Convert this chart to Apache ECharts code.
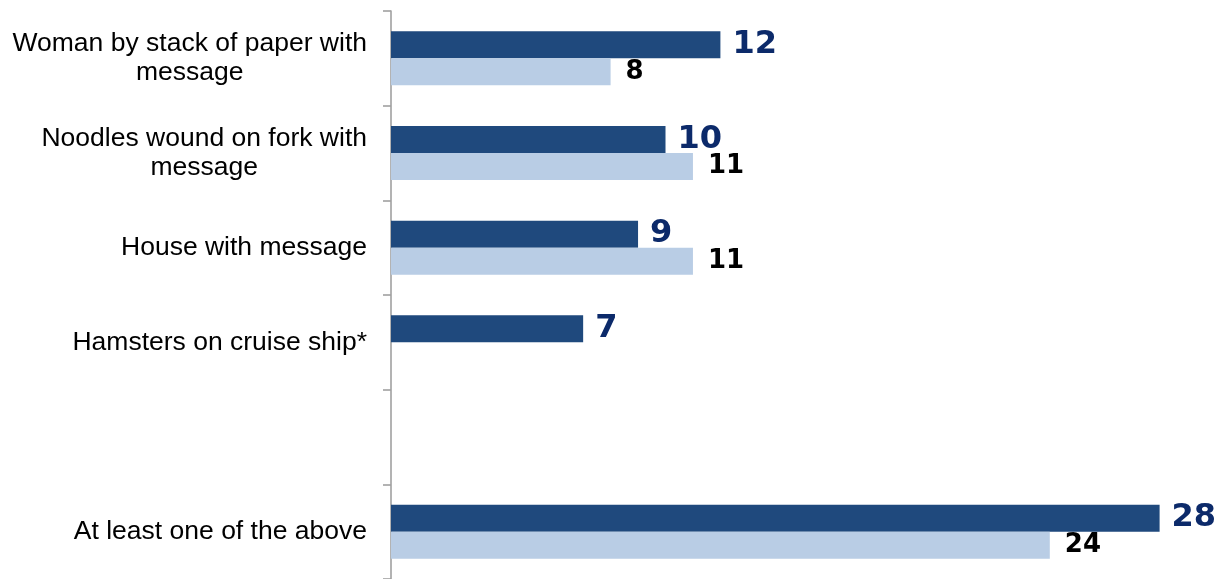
<!DOCTYPE html>
<html>
<head>
<meta charset="utf-8">
<title>Recall of ad images</title>
<script src="https://cdn.jsdelivr.net/npm/echarts@6/dist/echarts.min.js"></script>
<style>
  html, body { margin: 0; padding: 0; background: #ffffff; }
  #chart { width: 1226px; height: 579px; }
</style>
</head>
<body>
<div id="chart"></div>
<script>
// Ad images, top to bottom; the blank slot separates the summary row
var categories = [
  'Woman by stack of paper with\nmessage',
  'Noodles wound on fork with\nmessage',
  'House with message',
  'Hamsters on cruise ship*',
  '',
  'At least one of the above'
];
var darkValues = [12, 10, 9, 7, null, 28];
var lightValues = [8, 11, 11, null, null, 24];
var axisMax = 30;

var chart = echarts.init(document.getElementById('chart'));

// Each line of a category label is centred within its block
function categoryLabel(value) {
  if (!value) return '';
  return value.split('\n').map(function (line) {
    return '{c|' + line + '}';
  }).join('\n');
}

var valueFont = 'DejaVu Sans, Verdana, sans-serif';

chart.setOption({
  animation: false,
  backgroundColor: '#ffffff',
  grid: { left: 391, top: 11, right: 11.5, height: 573 },
  xAxis: {
    type: 'value',
    min: 0,
    max: axisMax,
    show: false
  },
  yAxis: {
    type: 'category',
    inverse: true,
    data: categories,
    axisLine: { show: true, lineStyle: { color: '#a0a0a0', width: 1.6 } },
    axisTick: { show: true, length: 8, lineStyle: { color: '#a0a0a0', width: 1.6 } },
    splitLine: { show: false },
    axisLabel: {
      margin: 24,
      align: 'right',
      formatter: categoryLabel,
      rich: {
        c: {
          align: 'center',
          fontFamily: 'Liberation Sans, Arial, sans-serif',
          fontSize: 26.5,
          lineHeight: 29,
          color: '#000000'
        }
      }
    }
  },
  series: [
    {
      type: 'bar',
      data: darkValues,
      barWidth: 27,
      barGap: '0%',
      itemStyle: { color: '#1f497d' },
      label: {
        show: true,
        position: 'right',
        distance: 12,
        fontFamily: valueFont,
        fontWeight: 'bold',
        fontSize: 32,
        color: '#0c2a6a'
      }
    },
    {
      type: 'bar',
      data: lightValues,
      barWidth: 27,
      barGap: '0%',
      itemStyle: { color: '#b9cde5' },
      label: {
        show: true,
        position: 'right',
        distance: 15,
        fontFamily: valueFont,
        fontWeight: 'bold',
        fontSize: 26,
        color: '#000000'
      }
    }
  ]
});
</script>
</body>
</html>
